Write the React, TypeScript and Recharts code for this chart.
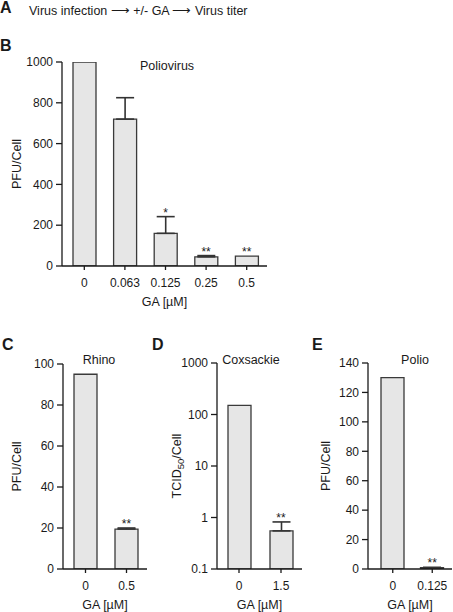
import React from "react";
import {
  BarChart,
  Bar,
  XAxis,
  YAxis,
  ErrorBar,
  ReferenceDot
} from "recharts";

// panel B - poliovirus dose response
const polioDoses = ["0", "0.063", "0.125", "0.25", "0.5"];
const polioTiter = [1000, 720, 160, 45, 48];
const polioErr = [0, 105, 82, 6, 0];
const polioSig = ["", "", "*", "**", "**"];
const polioTicks = [0, 200, 400, 600, 800, 1000];

// panel C - rhino
const rhinoDoses = ["0", "0.5"];
const rhinoTiter = [95, 19.5];
const rhinoErr = [0, 0.5];
const rhinoSig = ["", "**"];
const rhinoTicks = [0, 20, 40, 60, 80, 100];

// panel D - coxsackie (log)
const coxDoses = ["0", "1.5"];
const coxTiter = [150, 0.55];
const coxErr = [0, 0.27];
const coxSig = ["", "**"];
const coxTicks = [0.1, 1, 10, 100, 1000];

// panel E - polio
const polio2Doses = ["0", "0.125"];
const polio2Titer = [130, 0.9];
const polio2Err = [0, 0.2];
const polio2Sig = ["", "**"];
const polio2Ticks = [0, 20, 40, 60, 80, 100, 120, 140];

const FONT = "'Liberation Sans', sans-serif";
const INK = "#1a1a1a";

// only the upper half of each error bar is drawn (lower half hidden in the bar)
const build = (doses: string[], vals: number[], errs: number[], sig: string[]) =>
  doses.map((d, i) => ({
    dose: d,
    v: vals[i],
    err: errs[i] ? [0, errs[i]] : null,
    sig: sig[i],
    top: vals[i] + errs[i]
  }));

const TcidLabel = (props: any) => {
  const vb = props.viewBox || {};
  const cx = vb.x + vb.width / 2 - 16;
  const cy = vb.y + vb.height / 2;
  return (
    <text
      x={cx}
      y={cy}
      transform={`rotate(-90, ${cx}, ${cy})`}
      textAnchor="middle"
      fontSize={12.5}
      fill={INK}
      fontFamily={FONT}
    >
      TCID<tspan fontSize={9.5} dy={3}>50</tspan>
      <tspan dy={-3}>/Cell</tspan>
    </text>
  );
};

type PanelProps = {
  rows: any[];
  ticks: number[];
  domain: [number, number];
  log?: boolean;
  width: number;
  height: number;
  margin: { top: number; right: number; left: number; bottom: number };
  yLabel: any;
  padLeft: number;
};

const Panel = ({ rows, ticks, domain, log, width, height, margin, yLabel, padLeft }: PanelProps) => (
  <BarChart width={width} height={height} data={rows} margin={margin}>
    <XAxis
      dataKey="dose"
      stroke={INK}
      strokeWidth={1.3}
      tick={{ fontSize: 12, fill: INK, fontFamily: FONT }}
      tickSize={4}
      tickMargin={8}
      height={40}
      padding={{ left: padLeft, right: 0 }}
      label={{ value: "GA [µM]", position: "insideBottom", offset: 0, fontSize: 12.5, fill: INK, fontFamily: FONT }}
    />
    <YAxis
      type="number"
      scale={log ? "log" : "auto"}
      domain={domain}
      ticks={ticks}
      allowDataOverflow
      stroke={INK}
      strokeWidth={1.3}
      tick={{ fontSize: 12, fill: INK, fontFamily: FONT }}
      tickSize={6}
      tickMargin={3}
      width={40}
      label={yLabel}
    />
    <Bar dataKey="v" fill="#e6e6e6" stroke="#3a3a3a" strokeWidth={1.3} barSize={23} isAnimationActive={false}>
      <ErrorBar dataKey="err" direction="y" width={9} stroke="#333" strokeWidth={1.6} isAnimationActive={false} />
    </Bar>
    {rows
      .filter((r) => r.sig)
      .map((r) => (
        <ReferenceDot
          key={r.dose}
          x={r.dose}
          y={r.top}
          r={0}
          stroke="none"
          fill="none"
          label={{ value: r.sig, position: "top", offset: 0, fontSize: 12, fill: INK, fontFamily: FONT }}
        />
      ))}
  </BarChart>
);

const abs = (left: number, top: number, extra: React.CSSProperties = {}): React.CSSProperties => ({
  position: "absolute",
  left,
  top,
  ...extra
});

const letter = (l: number, t: number, s: string) => (
  <div style={abs(l, t, { fontWeight: "bold", fontSize: 16, lineHeight: "16px" })}>{s}</div>
);

const title = (cx: number, cy: number, s: string) => (
  <div style={abs(cx - 60, cy - 7, { width: 120, textAlign: "center", fontSize: 12.5, lineHeight: "14px" })}>{s}</div>
);

const pfuLabel = (dx: number) => ({
  value: "PFU/Cell",
  angle: -90,
  position: "center",
  dx,
  fontSize: 12.5,
  fill: INK,
  fontFamily: FONT
});

export default function App() {
  return (
    <div
      style={{
        position: "absolute",
        left: 0,
        top: 0,
        width: 453,
        height: 612,
        background: "#fff",
        fontFamily: FONT,
        color: INK,
        overflow: "hidden"
      }}
    >
      {letter(0, 0, "A")}
      <div style={abs(29, 4, { fontSize: 12.5, lineHeight: "14px", whiteSpace: "nowrap" })}>
        Virus infection ⟶ +/- GA ⟶ Virus titer
      </div>

      {letter(0, 38, "B")}
      <div style={abs(0, 40)}>
        <Panel
          rows={build(polioDoses, polioTiter, polioErr, polioSig)}
          ticks={polioTicks}
          domain={[0, 1000]}
          width={290}
          height={270}
          margin={{ top: 22, right: 23, left: 22, bottom: 4 }}
          yLabel={pfuLabel(-25)}
          padLeft={2}
        />
      </div>
      {title(167, 66, "Poliovirus")}

      {letter(2, 337, "C")}
      <div style={abs(0, 340)}>
        <Panel
          rows={build(rhinoDoses, rhinoTiter, rhinoErr, rhinoSig)}
          ticks={rhinoTicks}
          domain={[0, 100]}
          width={160}
          height={280}
          margin={{ top: 24, right: 13, left: 23, bottom: 11 }}
          yLabel={pfuLabel(-26)}
          padLeft={2}
        />
      </div>
      {title(99, 360, "Rhino")}

      {letter(152, 337, "D")}
      <div style={abs(150, 340)}>
        <Panel
          rows={build(coxDoses, coxTiter, coxErr, coxSig)}
          ticks={coxTicks}
          domain={[0.1, 1000]}
          log
          width={152}
          height={280}
          margin={{ top: 23, right: 0, left: 27, bottom: 11 }}
          yLabel={{ content: TcidLabel, position: "center" }}
          padLeft={1}
        />
      </div>
      {title(251, 360, "Coxsackie")}

      {letter(312, 337, "E")}
      <div style={abs(300, 340)}>
        <Panel
          rows={build(polio2Doses, polio2Titer, polio2Err, polio2Sig)}
          ticks={polio2Ticks}
          domain={[0, 140]}
          width={153}
          height={280}
          margin={{ top: 23, right: 1, left: 28, bottom: 11 }}
          yLabel={pfuLabel(-22)}
          padLeft={5}
        />
      </div>
      {title(415, 360, "Polio")}
    </div>
  );
}
